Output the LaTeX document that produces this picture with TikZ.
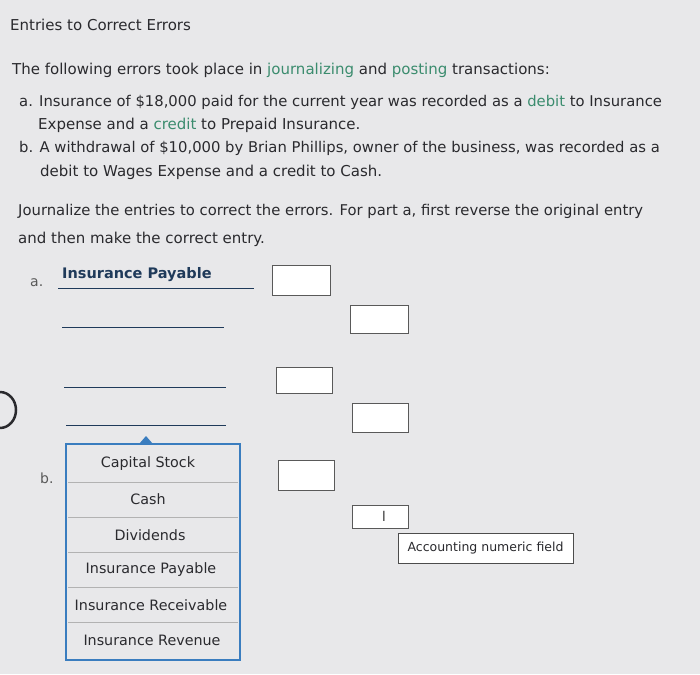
\documentclass[tikz,border=0pt]{standalone}
\usepackage{fontspec}
\setmainfont{DejaVu Sans}
\definecolor{bg}{HTML}{E8E8EA}
\definecolor{grn}{HTML}{3B8C6E}
\definecolor{txt}{HTML}{2A2A2E}
\definecolor{blu}{HTML}{3A7DBF}
\definecolor{lbl}{HTML}{1F3A5A}
\tikzset{
 t/.style={anchor=west,inner sep=0pt,text=txt,font=\fontsize{15}{17}\selectfont},
 it/.style={inner sep=0pt,text=txt,font=\fontsize{14.3}{16}\selectfont},
 ibox/.style={draw=gray!70!black,fill=white,line width=0.8pt},
 ln/.style={draw=lbl,line width=0.9pt},
 sep/.style={draw=gray!60,line width=0.6pt}
}
\begin{document}
\begin{tikzpicture}[x=1pt,y=-1pt]
\fill[bg] (0,0) rectangle (700,674);
\useasboundingbox (0,0) rectangle (700,674);
\node[t] (title) at (10,25) {Entries to Correct Errors};
\node[t] (intro) at (12,70) {The following errors took place in \textcolor{grn}{journalizing} and \textcolor{grn}{posting} transactions:};
\node[t,font=\fontsize{14.8}{17}\selectfont] (a1) at (19,102) {a. Insurance of \$18,000 paid for the current year was recorded as a \textcolor{grn}{debit} to Insurance};
\node[t] (a2) at (38,125) {Expense and a \textcolor{grn}{credit} to Prepaid Insurance.};
\node[t,font=\fontsize{14.8}{17}\selectfont] (b1) at (19,148) {b. A withdrawal of \$10,000 by Brian Phillips, owner of the business, was recorded as a};
\node[t] (b2) at (40,172) {debit to Wages Expense and a credit to Cash.};
\node[t,font=\fontsize{14.8}{17}\selectfont] (j1) at (18,211) {Journalize the entries to correct the errors. For part a, first reverse the original entry};
\node[t] (j2) at (18,239) {and then make the correct entry.};
\node[t,text=gray!70!black,font=\fontsize{14}{16}\selectfont] (la) at (30,283) {a.};
\node[t,text=lbl,font=\bfseries\fontsize{14.5}{16}\selectfont] (ip) at (62,275) {Insurance Payable};
\draw[ln] (58,288) -- (254,288);
\draw[ln] (62,327) -- (224,327);
\draw[ln] (64,387) -- (226,387);
\draw[ln] (66,425) -- (226,425);
\draw[ibox] (272,265) rectangle (330,295);
\draw[ibox] (350,305) rectangle (408,333);
\draw[ibox] (276,367) rectangle (332,393);
\draw[ibox] (352,403) rectangle (408,432);
\draw[ibox] (278,460) rectangle (334,490);
\draw[ibox] (352,505) rectangle (408,528);
\node[inner sep=0pt,text=gray!60!black,font=\fontsize{14}{14}\selectfont] (cur) at (384,516) {I};
\draw[line width=2.5pt,txt] (0,428) arc (90:-90:16 and 18);
\node[t,text=gray!70!black,font=\fontsize{14}{16}\selectfont] (lb) at (40,478) {b.};
\fill[blu] (139,444) -- (146,436) -- (153,444) -- cycle;
\draw[blu,line width=2.5pt,fill=bg] (66,444) rectangle (240,660);
\foreach \y in {482,517,552,587,622} \draw[sep] (68,\y) -- (238,\y);
\node[it] (i1) at (148,464) {Capital Stock};
\node[it] (i2) at (148,499) {Cash};
\node[it] (i3) at (150,535) {Dividends};
\node[it] (i4) at (151,570) {Insurance Payable};
\node[it] (i5) at (151,605) {Insurance Receivable};
\node[it] (i6) at (152,640) {Insurance Revenue};
\node[draw=gray!60!black,fill=white,inner sep=0pt,minimum width=175pt,minimum height=30pt,text=txt,font=\fontsize{12.5}{13}\selectfont] (tip) at (485.5,548) {Accounting numeric field};
\end{tikzpicture}
\end{document}
